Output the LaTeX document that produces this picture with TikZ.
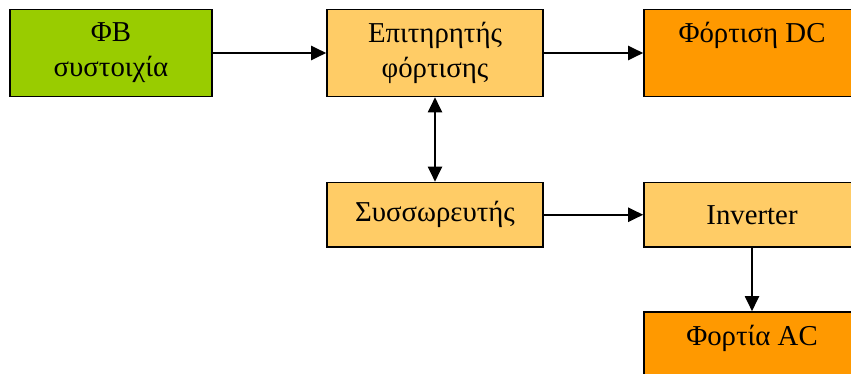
\documentclass[tikz,border=0pt]{standalone}
\usepackage{fontspec}
\setmainfont{Liberation Serif}
\usetikzlibrary{arrows.meta}
\definecolor{pvgreen}{HTML}{99CC00}
\definecolor{lightor}{HTML}{FFCC66}
\definecolor{darkor}{HTML}{FF9900}
\begin{document}
\begin{tikzpicture}[x=1pt,y=-1pt,
  box/.style={draw=black,line width=1.6pt,inner sep=0pt,align=center,
    minimum width=216pt,minimum height=87pt,
    font=\fontsize{28.8}{35}\selectfont},
  conn/.style={line width=2pt,-{Triangle[length=15pt,width=14pt]}},
  bconn/.style={line width=2pt,{Triangle[length=15pt,width=14pt]}-{Triangle[length=15pt,width=14pt]}}]
\clip (0,0) rectangle (851,374);
\node[box,fill=pvgreen,minimum width=202pt] (pv) at (111,53) {ΦΒ\\συστοιχία};
\node[box,fill=lightor] (reg) at (435,53) {Επιτηρητής\\φόρτισης};
\node[box,fill=darkor] (dc) at (752,53) {Φόρτιση DC\\\vphantom{συστοιχία}};
\node[box,fill=lightor,minimum height=64.5pt] (bat) at (435,214.75) {Συσσωρευτής};
\node[box,fill=lightor,minimum height=64.5pt] (inv) at (752,214.75) {Inverter};
\node[box,fill=darkor] (ac) at (752,355.5) {Φορτία AC\\\vphantom{συστοιχία}};
\draw[conn] (pv.east) -- (reg.west);
\draw[conn] (reg.east) -- (dc.west);
\draw[bconn] (reg.south) -- (bat.north);
\draw[conn] (bat.east) -- (inv.west);
\draw[conn] (inv.south) -- (ac.north);
\end{tikzpicture}
\end{document}
